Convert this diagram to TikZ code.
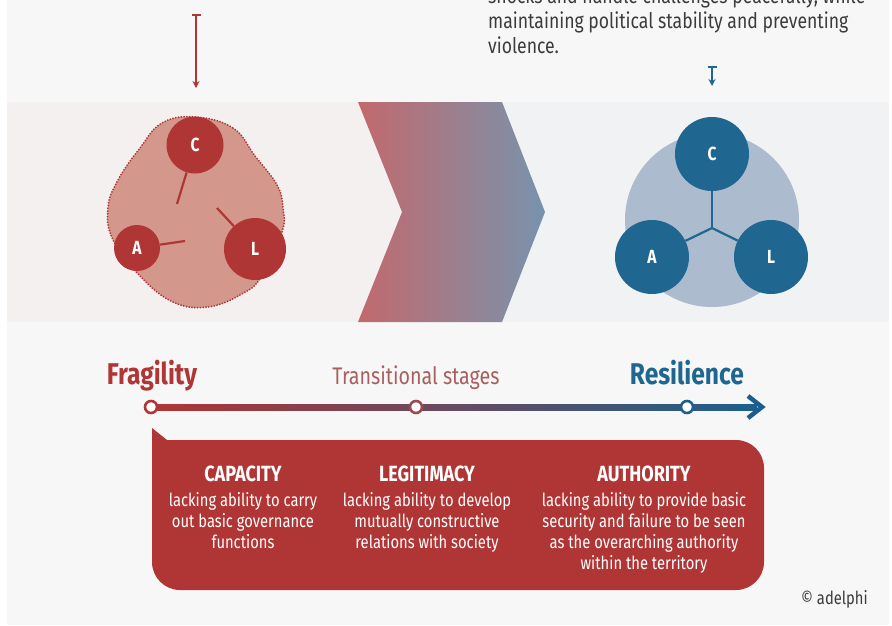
\documentclass[tikz,border=0pt]{standalone}
\usepackage{fontspec}
\setmainfont{Fira Sans}[FakeStretch=0.82]
\usetikzlibrary{arrows.meta,positioning,calc}
\definecolor{fragred}{HTML}{B03535}
\definecolor{resblue}{HTML}{1F6690}
\definecolor{blobred}{HTML}{D4978B}
\definecolor{bigblue}{HTML}{ADBBCF}
\definecolor{pagegray}{HTML}{F7F7F7}
\definecolor{leftband}{HTML}{F4F0F0}
\definecolor{rightband}{HTML}{F1F2F4}
\definecolor{chevleft}{HTML}{C2696D}
\definecolor{chevright}{HTML}{7893AD}
\definecolor{stagered}{HTML}{A8605E}
\definecolor{midstage}{HTML}{9A4B50}
\definecolor{lastblue}{HTML}{1C5F8C}
\definecolor{toptext}{HTML}{3C3C3C}

\begin{document}
\begin{tikzpicture}[x=1pt,y=-1pt,
    redball/.style={circle, fill=fragred, text=white, inner sep=0pt,
      font=\bfseries\fontsize{19}{19}\selectfont},
    blueball/.style={circle, fill=resblue, text=white, inner sep=0pt,
      minimum size=74pt, font=\bfseries\fontsize{19}{19}\selectfont},
    redlink/.style={fragred, line width=2.2pt},
    bluelink/.style={resblue, line width=2.2pt},
    stagedot/.style={circle, fill=white, line width=2.6pt,
      minimum size=12pt, inner sep=0pt},
    topline/.style={anchor=base west, inner sep=0pt, text=toptext,
      font=\fontsize{21.5}{25}\selectfont},
    colhead/.style={anchor=base, inner sep=0pt, text=white,
      font=\bfseries\fontsize{22}{22}\selectfont},
    coltext/.style={below=11pt of #1, anchor=north, inner sep=0pt, align=center,
      text=white, font=\fontsize{18}{21}\selectfont}]
    \useasboundingbox (0,0) rectangle (892,625);

    % page and bands
    \fill[white] (0,0) rectangle (892,625);
    \fill[pagegray] (7,0) rectangle (889,625);
    \fill[leftband] (7,102) rectangle (402,322);
    \fill[rightband] (402,102) rectangle (889,322);

    % text at the top
    \node[topline] (top1) at (488,3) {shocks and handle challenges peacefully, while};
    \node[topline] (top2) at (488,28) {maintaining political stability and preventing};
    \node[topline] (top3) at (488,53) {violence.};

    % pointers down to the two states
    \coordinate (fragtop) at (196,14);
    \coordinate (fragbot) at (196,88);
    \draw[fragred, line width=1.8pt, {Bar[width=9pt]}-{Stealth[length=7pt,width=7pt]}] (fragtop) -- (fragbot);
    \coordinate (restop) at (712,66);
    \coordinate (resbot) at (712,86);
    \draw[resblue, line width=1.8pt, {Bar[width=9pt]}-{Stealth[length=7pt,width=7pt]}] (restop) -- (resbot);

    % fragile state: loose blob
    \fill[blobred] plot[smooth cycle, tension=0.7] coordinates {
      (195,117) (233,128) (255,156) (277,185) (283,208) (282,232) (262,276)
      (240,295) (207,307) (173,302) (140,276) (113,240) (108,208) (118,180)
      (140,148) (162,123)};
    \draw[fragred, line width=2pt, line cap=round, dash pattern=on 0pt off 2.8pt]
      plot[smooth cycle, tension=0.7] coordinates {
      (195,117) (233,128) (255,156) (277,185) (283,208) (282,232) (262,276)
      (240,295) (207,307) (173,302) (140,276) (113,240) (108,208) (118,180)
      (140,148) (162,123)};
    \node[redball, minimum size=57pt] (fc) at (195,145) {C};
    \node[redball, minimum size=46pt] (fa) at (137,248) {A};
    \node[redball, minimum size=62pt] (fl) at (255,249) {L};
    \coordinate (fcend) at (177,204);
    \coordinate (faend) at (185,241);
    \coordinate (flend) at (217,208);
    \draw[redlink] (fc) -- (fcend);
    \draw[redlink] (fa) -- (faend);
    \draw[redlink] (fl) -- (flend);

    % transition chevron
    \shade[left color=chevleft, right color=chevright]
      (358,102) -- (502,102) -- (545,212) -- (502,322) -- (358,322) -- (402,212) -- cycle;

    % resilient state: joined circles
    \fill[bigblue] (712,220) circle[radius=87];
    \coordinate (hub) at (712,228);
    \node[blueball] (rc) at (712,154) {C};
    \node[blueball] (ra) at (652,257) {A};
    \node[blueball] (rl) at (771,257) {L};
    \draw[bluelink] (hub) -- (rc);
    \draw[bluelink] (hub) -- (ra);
    \draw[bluelink] (hub) -- (rl);

    % scale from fragility to resilience
    \coordinate (tip) at (762,407);
    \shade[left color=fragred, middle color=midstage, right color=lastblue]
      (151,404) rectangle (757,410);
    \draw[lastblue, line width=4.5pt, line join=miter] (748,396) -- (tip) -- (748,418);
    \node[stagedot, draw=fragred] (fdot) at (151,407) {};
    \node[stagedot, draw=midstage] (tdot) at (416,407) {};
    \node[stagedot, draw=lastblue] (rdot) at (687,407) {};
    \node[anchor=base, inner sep=0pt, text=fragred, font=\bfseries\fontsize{30}{30}\selectfont]
      (fraglabel) at (152,384) {Fragility};
    \node[anchor=base, inner sep=0pt, text=stagered, font=\fontsize{24}{24}\selectfont]
      (translabel) at (416,384) {Transitional stages};
    \node[anchor=base, inner sep=0pt, text=resblue, font=\bfseries\fontsize{30}{30}\selectfont]
      (reslabel) at (687,384) {Resilience};

    % box with the three dimensions
    \fill[fragred, rounded corners=28pt] (152,440) rectangle (764,590);
    \fill[fragred] (152,440) rectangle (200,480);
    \fill[fragred] (152,428) -- (167,440) -- (152,440) -- cycle;
    \node[colhead] (caphead) at (243,481) {CAPACITY};
    \node[colhead] (leghead) at (427,481) {LEGITIMACY};
    \node[colhead] (authead) at (644,481) {AUTHORITY};
    \node[coltext=caphead] (captext) {lacking ability to carry\\out basic governance\\functions};
    \node[coltext=leghead] (legtext) {lacking ability to develop\\mutually constructive\\relations with society};
    \node[coltext=authead] (auttext) {lacking ability to provide basic\\security and failure to be seen\\as the overarching authority\\within the territory};

    \node[anchor=base east, inner sep=0pt, text=toptext, font=\fontsize{18}{18}\selectfont]
      (copy) at (868,604) {© adelphi};
\end{tikzpicture}
\end{document}
